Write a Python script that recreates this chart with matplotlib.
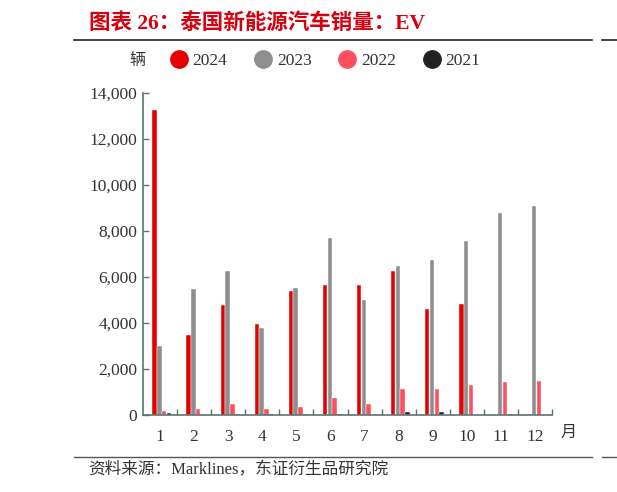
import matplotlib
matplotlib.use("Agg")
import matplotlib.pyplot as plt
import numpy as np
from matplotlib.lines import Line2D
from matplotlib.ticker import FuncFormatter, FixedLocator

# ---- data ----
months = ["1", "2", "3", "4", "5", "6", "7", "8", "9", "10", "11", "12"]
series_names = ["2024", "2023", "2022", "2021"]
v2024 = [13250, 3500, 4800, 3950, 5370, 5640, 5640, 6280, 4590, 4810, 0, 0]
v2023 = [2990, 5470, 6260, 3770, 5520, 7690, 4980, 6500, 6730, 7550, 8800, 9090]
v2022 = [180, 240, 470, 240, 350, 760, 480, 1130, 1150, 1320, 1440, 1480]
v2021 = [70, 0, 60, 60, 60, 60, 0, 120, 120, 0, 50, 0]
yticks = [0, 2000, 4000, 6000, 8000, 10000, 12000, 14000]

colors = ["#e60000", "#8e8e8e", "#ff4f5e", "#222222"]
spine_c = "#5f7272"
text_c = "#333333"
fam = ["Liberation Serif", "Noto Sans CJK SC"]
plt.rcParams["font.family"] = fam

W, H = 617, 492
fig = plt.figure(figsize=(W / 100, H / 100), dpi=100)
ax = fig.add_axes([143 / W, 1 - 415 / H, (552 - 143) / W, (415 - 93) / H])

x = np.arange(len(months))
bw = 0.13
step = 0.14
shift = 0.05
for i, vals in enumerate([v2024, v2023, v2022, v2021]):
    ax.bar(x + shift + (i - 1.5) * step, vals, width=bw, color=colors[i],
           edgecolor="white", linewidth=0.3, zorder=2)

ax.set_xlim(-0.5, 11.5)
ax.set_ylim(0, 14000)
for s in ["top", "right"]:
    ax.spines[s].set_visible(False)
for s in ["left", "bottom"]:
    ax.spines[s].set_color(spine_c)
    ax.spines[s].set_linewidth(1.2)

ax.yaxis.set_major_locator(FixedLocator(yticks))
ax.yaxis.set_major_formatter(FuncFormatter(lambda v, p: f"{v:,.0f}"))
ax.tick_params(axis="y", direction="in", length=4, width=1.0, color=spine_c,
               labelsize=12.5, labelcolor=text_c, pad=4)
ax.set_xticks(x)
ax.set_xticklabels(months)
ax.tick_params(axis="x", which="major", length=0, labelsize=12.5,
               labelcolor=text_c, pad=10)
ax.set_xticks(np.arange(0.5, 12.0, 1.0), minor=True)
ax.tick_params(axis="x", which="minor", direction="in", length=4, width=1.0,
               color=spine_c)

# legend
handles = [Line2D([], [], linestyle="none", marker="o", markersize=12.5,
                  markerfacecolor=c, markeredgecolor=c) for c in colors]
fig.legend(handles, series_names, loc="center left",
           bbox_to_anchor=(170 / W, 1 - 61 / H), ncol=4, frameon=False,
           borderpad=0, borderaxespad=0, handlelength=1.0, handletextpad=0.3,
           columnspacing=1.55, prop={"size": 12.5}, labelcolor=text_c)
fig.text(137 / W, 1 - 61 / H, "辆", ha="center", va="center", fontsize=11.5,
         color=text_c)
fig.text(569 / W, 1 - 433 / H, "月", ha="center", va="center", fontsize=11.5,
         color=text_c)

# title and frame lines
fig.text(89 / W, 1 - 24 / H, "图表 26：泰国新能源汽车销量：EV", ha="left",
         va="center", fontsize=15.5, fontweight="bold", color="#d7000f")
fig.add_artist(Line2D([74 / W, 592 / W], [1 - 40 / H, 1 - 40 / H],
                      color="#222222", linewidth=1.2))
fig.add_artist(Line2D([602 / W, 1.0], [1 - 40 / H, 1 - 40 / H],
                      color="#222222", linewidth=1.2))
fig.add_artist(Line2D([74 / W, 592 / W], [1 - 456.5 / H, 1 - 456.5 / H],
                      color="#555555", linewidth=1.0))
fig.add_artist(Line2D([602 / W, 1.0], [1 - 456.5 / H, 1 - 456.5 / H],
                      color="#555555", linewidth=1.0))
fig.text(88 / W, 1 - 470 / H, "资料来源：Marklines，东证衍生品研究院",
         ha="left", va="center", fontsize=12, color=text_c)

fig.savefig("out.png", dpi=100)
